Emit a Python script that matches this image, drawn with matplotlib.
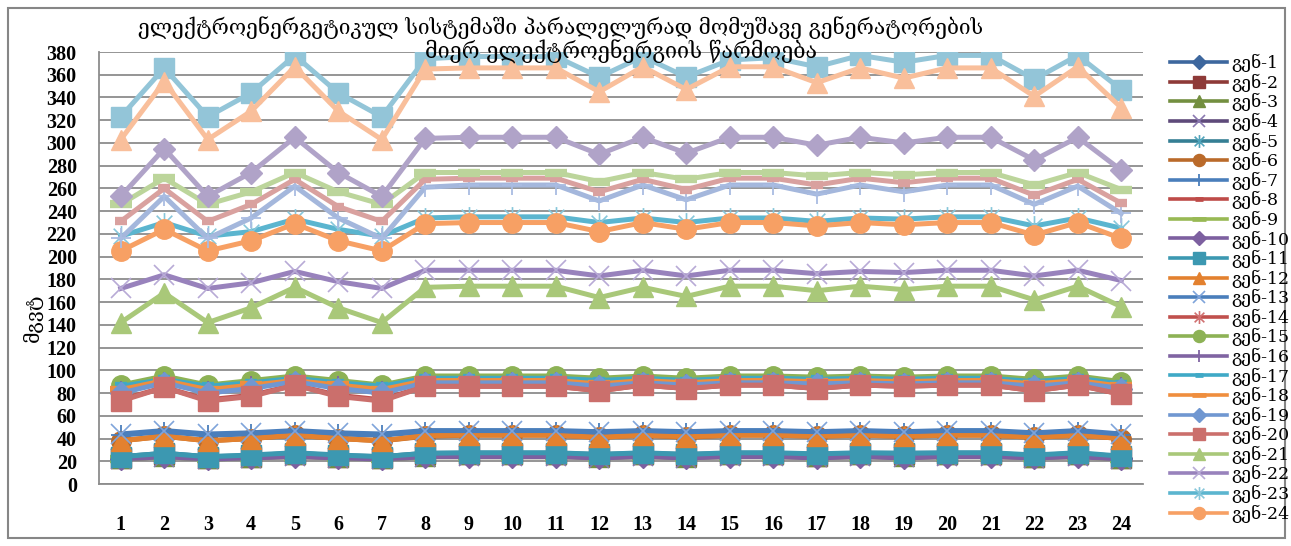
import matplotlib
matplotlib.use("Agg")
import matplotlib.pyplot as plt
from matplotlib.lines import Line2D
from matplotlib.patches import Rectangle
from matplotlib.path import Path

# ---- data: hourly output of parallel generators (MW) ----
hours = list(range(1, 25))
hour_labels = [str(h) for h in hours]

gen_01 = [23, 25, 23, 24, 26, 24, 23, 25, 26, 26, 26, 24, 26, 24, 26, 26, 25, 26, 25, 26, 26, 24, 26, 23]
gen_02 = [23, 26, 23, 24, 26, 24, 23, 26, 26, 26, 26, 25, 26, 25, 26, 26, 25, 26, 26, 26, 26, 24, 26, 23]
gen_03 = [23, 25, 23, 24, 26, 24, 23, 25, 26, 26, 26, 24, 26, 24, 26, 26, 25, 26, 25, 26, 26, 24, 26, 23]
gen_04 = [22, 24, 22, 23, 25, 23, 22, 24, 25, 25, 25, 23, 25, 23, 25, 25, 24, 25, 24, 25, 25, 23, 25, 22]
gen_05 = [24, 27, 24, 25, 27, 25, 24, 27, 27, 27, 27, 26, 27, 26, 27, 27, 26, 27, 27, 27, 27, 25, 27, 24]
gen_06 = [38, 42, 38, 40, 43, 40, 38, 42, 43, 43, 43, 41, 43, 41, 43, 43, 42, 43, 42, 43, 43, 41, 43, 40]
gen_07 = [43, 46, 43, 44, 46, 44, 43, 46, 46, 46, 46, 45, 46, 45, 46, 46, 45, 46, 45, 46, 46, 44, 46, 43]
gen_08 = [23, 25, 23, 24, 25, 24, 23, 25, 25, 25, 25, 24, 25, 24, 25, 25, 24, 25, 24, 25, 25, 24, 25, 23]
gen_09 = [22, 24, 22, 23, 24, 23, 22, 24, 24, 24, 24, 23, 24, 23, 24, 24, 23, 24, 23, 24, 24, 23, 24, 22]
gen_10 = [22, 24, 22, 23, 24, 23, 22, 24, 24, 24, 24, 23, 24, 23, 24, 24, 23, 24, 23, 24, 24, 23, 24, 22]
gen_11 = [24, 27, 24, 25.5, 27.5, 25.5, 24, 27, 27.5, 27.5, 27.5, 26, 27.5, 26, 27.5, 27.5, 26.5, 27.5, 27, 27.5, 27.5, 25.5, 27.5, 24.5]
gen_12 = [38, 42, 38, 40, 43, 40, 38, 42.5, 43, 43, 43, 41, 43, 41.5, 43, 43, 42, 43, 42, 43, 43, 41, 43, 40]
gen_13 = [44, 47, 44, 45, 47, 45, 44, 47, 47, 47, 47, 46, 47, 46, 47, 47, 46, 47, 46, 47, 47, 45, 47, 44]
gen_14 = [74, 85, 74, 78, 87, 78, 74, 86, 86, 86, 86, 82, 87, 84, 87, 87, 84, 87, 86, 87, 87, 82, 87, 79]
gen_15 = [87, 95, 87, 91, 95, 91, 87, 95, 95, 95, 95, 93, 95, 93, 95, 95, 94, 95, 94, 95, 95, 92, 95, 90]
gen_16 = [82, 90, 82, 86, 90, 86, 82, 90, 90, 90, 90, 87, 90, 88, 90, 90, 89, 90, 89, 90, 90, 87, 90, 85]
gen_17 = [86, 92, 86, 89, 93, 89, 86, 93, 93, 93, 93, 91, 93, 91, 93, 93, 92, 93, 92, 93, 93, 90, 93, 88]
gen_18 = [83, 91, 83, 87, 91, 87, 83, 91, 91, 91, 91, 88, 91, 89, 91, 91, 90, 91, 90, 91, 91, 88, 91, 86]
gen_19 = [80, 89, 80, 84, 90, 84, 80, 89, 89, 89, 89, 86, 89, 87, 89, 89, 88, 89, 88, 89, 89, 86, 89, 84]
gen_20 = [73, 85, 73, 77, 87, 77, 73, 86, 86, 86, 86, 82, 87, 84, 87, 87, 84, 87, 86, 87, 87, 82, 87, 79]
gen_21 = [142, 168, 142, 155, 173, 155, 142, 173, 174, 174, 174, 164, 173, 165, 174, 174, 170, 174, 171, 174, 174, 162, 174, 156]
gen_22 = [172, 184, 172, 177, 187, 178, 172, 188, 188, 188, 188, 183, 188, 183, 188, 188, 185, 187, 186, 188, 188, 183, 188, 179]
gen_23 = [218, 230, 218, 222, 233, 224, 218, 234, 235, 235, 235, 230, 234, 230, 234, 234, 231, 234, 233, 235, 235, 227, 234, 225]
gen_24 = [205, 224, 205, 214, 229, 214, 205, 229, 230, 230, 230, 222, 230, 224, 230, 230, 227, 230, 228, 230, 230, 219, 230, 216]
gen_25 = [216, 253, 216, 234, 262, 234, 216, 261, 263, 263, 263, 249, 263, 250, 263, 263, 255, 263, 257, 263, 263, 246, 262, 238]
gen_26 = [231, 260, 231, 246, 268, 244, 231, 268, 269, 269, 269, 257, 268, 259, 269, 269, 263, 269, 265, 269, 269, 254, 268, 247]
gen_27 = [246, 269, 246, 257, 274, 257, 246, 274, 274, 274, 274, 266, 274, 268, 274, 274, 271, 274, 272, 274, 274, 263, 274, 259]
gen_28 = [253, 295, 253, 274, 305, 274, 253, 304, 305, 305, 305, 290, 305, 291, 305, 305, 298, 305, 300, 305, 305, 285, 305, 276]
gen_29 = [323, 366, 323, 344, 377, 344, 323, 374, 376, 376, 376, 358, 376, 358, 373, 375, 367, 377, 371, 377, 377, 356, 377, 347]
gen_30 = [303, 354, 303, 328, 367, 328, 303, 365, 366, 366, 366, 345, 367, 347, 367, 367, 353, 366, 357, 366, 366, 341, 367, 331]

series = [gen_01, gen_02, gen_03, gen_04, gen_05, gen_06, gen_07, gen_08, gen_09, gen_10,
          gen_11, gen_12, gen_13, gen_14, gen_15, gen_16, gen_17, gen_18, gen_19, gen_20,
          gen_21, gen_22, gen_23, gen_24, gen_25, gen_26, gen_27, gen_28, gen_29, gen_30]
names = ["გენ-%d" % (i + 1) for i in range(len(series))]
legend_count = 24

# ---- styling ----
line_colors = [
    "#3D679E", "#8E3A38", "#738F40", "#5E4A7A", "#357F94", "#BA6A2A",
    "#4A7EBB", "#BE4B48", "#98B954", "#7D60A0", "#3C98B1", "#E3812F",
    "#4A7EBB", "#C0504D", "#8DB255", "#8064A2", "#3FA9C6", "#EF8E3E",
    "#7097D1", "#CB6F6C", "#A9C879", "#9882BC", "#5BB5CF", "#F7A064",
    "#A4B7DC", "#D9A19F", "#BCD59B", "#B0A3C8", "#93C5D8", "#F9BF9B",
]
marker_colors = list(line_colors)
for idx, col in {3: "#8A78B0", 4: "#4FA3BA", 12: "#7FA4DA", 13: "#D07070",
                 21: "#B8AAD6", 22: "#86C6DA", 24: "#A9BCE2"}.items():
    marker_colors[idx] = col

asterisk = Path([(0, -1), (0, 1), (-0.75, -0.75), (0.75, 0.75), (-0.75, 0.75), (0.75, -0.75)],
                [Path.MOVETO, Path.LINETO, Path.MOVETO, Path.LINETO, Path.MOVETO, Path.LINETO])

# marker cycle: diamond, square, triangle, x, asterisk, circle, plus, short dash, long dash
cycle = [("D", 11, 1), ("s", 14, 1), ("^", 14, 1), ("x", 15, 1.2), (asterisk, 15, 1.2),
         ("o", 14, 1), ("+", 15, 1.3), ("_", 9, 6), ("_", 16, 6)]

georgian = ["DejaVu Serif", "DejaVu Sans"]

fig = plt.figure(figsize=(12.91, 5.46), dpi=100)
fig.patch.set_facecolor("white")
ax = fig.add_axes([99 / 1291, 62 / 546, (1143 - 99) / 1291, (484 - 52) / 546])

handles = []
for i, vals in enumerate(series):
    mk, ms, mew = cycle[i % 9]
    filled = mk in ("D", "s", "^", "o")
    mfc = marker_colors[i] if filled else "none"
    ax.plot(hours, vals, color=line_colors[i], lw=3.6, marker=mk, markersize=ms,
            markerfacecolor=mfc, markeredgecolor=marker_colors[i], markeredgewidth=mew,
            solid_joinstyle="round", zorder=3 + i * 0.01)
    leg_mew = 3.4 if mk == "_" else mew
    handles.append(Line2D([], [], color=line_colors[i], lw=2.6, marker=mk,
                          markersize=ms * 0.62, markerfacecolor=mfc,
                          markeredgecolor=marker_colors[i], markeredgewidth=leg_mew))

ax.set_xlim(0.5, 24.5)
ax.set_ylim(0, 380)
ax.set_yticks(range(0, 381, 20))
ax.set_xticks(hours)
ax.set_xticklabels(hour_labels)
ax.grid(axis="y", color="#8C8C8C", lw=1.3, zorder=0)
ax.set_axisbelow(True)
for side in ("top", "right"):
    ax.spines[side].set_visible(False)
for side in ("left", "bottom"):
    ax.spines[side].set_color("#8C8C8C")
    ax.spines[side].set_linewidth(1.3)
ax.tick_params(axis="both", length=0, labelsize=14.5)
ax.tick_params(axis="y", pad=16)
ax.tick_params(axis="x", pad=22)
for lab in ax.get_xticklabels() + ax.get_yticklabels():
    lab.set_fontfamily("Liberation Serif")
    lab.set_fontweight("bold")

fig.text(33 / 1291, 1 - 318 / 546, "მგვტ", rotation=90, ha="center", va="center",
         fontsize=14, family=georgian)

fig.text(561 / 1291, 1 - 28 / 546,
         "ელექტროენერგეტიკულ სისტემაში პარალელურად მომუშავე გენერატორების",
         ha="center", va="center", fontsize=15, family=georgian)
fig.text(621 / 1291, 1 - 52 / 546, "მიერ ელექტროენერგიის წარმოება",
         ha="center", va="center", fontsize=15.5, family=georgian)

fig.legend(handles[:legend_count], names[:legend_count], loc="upper left",
           bbox_to_anchor=(1158 / 1291, 1 - 42 / 546), frameon=False,
           prop={"family": georgian, "size": 12.5},
           labelspacing=0.08, handlelength=3.3, handletextpad=0.25, borderpad=0.2)

fig.add_artist(Rectangle((8 / 1291, 8 / 546), 1277 / 1291, 530 / 546, transform=fig.transFigure,
                         fill=False, edgecolor="#868686", lw=1.5))

fig.savefig("out.png", dpi=100)
